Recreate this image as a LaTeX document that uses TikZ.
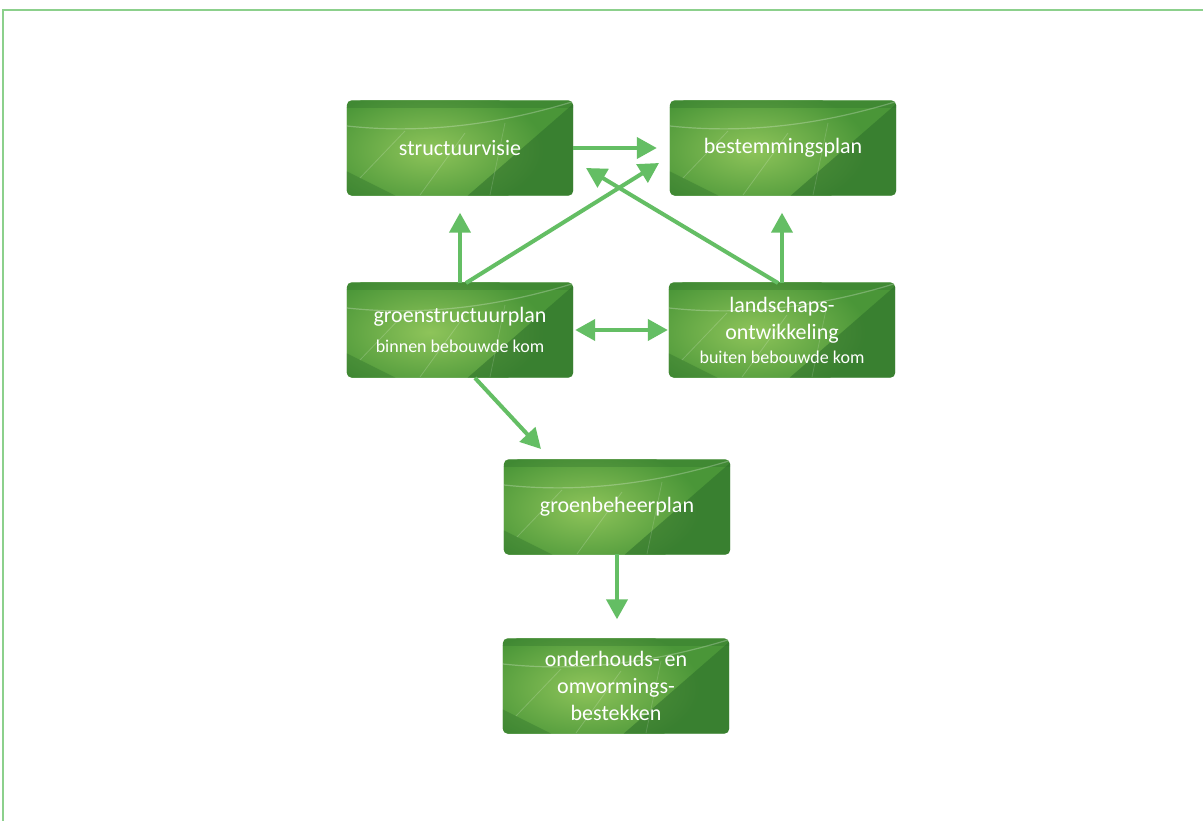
\documentclass[tikz,border=0pt]{standalone}
\usepackage{fontspec}
\setmainfont{Carlito}
\usetikzlibrary{arrows.meta,backgrounds}
\definecolor{arrowgreen}{HTML}{64BE64}
\definecolor{framegreen}{HTML}{8CD08C}
\definecolor{leafmid}{HTML}{4A9638}
\definecolor{leaflight}{HTML}{8EC45A}
\definecolor{leafdark}{HTML}{2C6E2A}
\tikzset{
  leaf/.style={minimum width=226pt, minimum height=93pt, inner sep=0pt,
    text=white, align=center, font=\fontsize{22}{27}\selectfont},
  arr/.style={draw=arrowgreen, line width=4pt, -{Triangle[length=20pt, width=21pt]}},
  darr/.style={draw=arrowgreen, line width=4pt, {Triangle[length=20pt, width=21pt]}-{Triangle[length=20pt, width=21pt]}}
}
\begin{document}
\begin{tikzpicture}[x=1pt,y=-1pt]
\useasboundingbox (0,0) rectangle (1203,821);

\node[leaf] (sv) at (460,148) {structuurvisie};
\node[leaf] (bp) at (783,148) {bestemmingsplan};
\node[leaf] (gs) at (460,330) {groenstructuurplan\\[3pt]{\fontsize{18}{20}\selectfont binnen bebouwde kom}};
\node[leaf] (lo) at (782,330) {landschaps-\\ontwikkeling\\[-3pt]{\fontsize{18}{20}\selectfont buiten bebouwde kom}};
\node[leaf] (gb) at (617,507) {groenbeheerplan};
\node[leaf] (ob) at (616,686) {onderhouds- en\\omvormings-\\bestekken};

\begin{scope}[on background layer]
\fill[white] (0,0) rectangle (1203,821);
\draw[framegreen, line width=2pt] (3,821) -- (3,10) -- (1203,10);
\foreach \n in {sv,bp,gs,lo,gb,ob}{
  \begin{scope}
    \clip[rounded corners=5pt] ([yshift=-1pt]\n.south west) rectangle ([yshift=1pt]\n.north east);
    \begin{scope}[shift={(\n.center)}]
      \fill[leafmid] (-120,-50) rectangle (120,50);
      \shade[inner color=leaflight, outer color=leafmid] (-30,2) ellipse [x radius=115, y radius=62];
      \fill[leafdark, opacity=0.55] (5,50) -- (120,-50) -- (120,50) -- cycle;
      \fill[leafdark, opacity=0.35] (-120,20) -- (-60,50) -- (-120,50) -- cycle;
      \fill[leafdark, opacity=0.3] (-120,-50) rectangle (120,-40);
      \draw[white, opacity=0.25, line width=1.2pt] (-113,-22) .. controls (-20,-12) and (60,-30) .. (115,-47);
      \draw[white, opacity=0.18, line width=0.8pt] (-40,47) -- (5,-15);
      \draw[white, opacity=0.18, line width=0.8pt] (-100,30) -- (-55,-17);
      \draw[white, opacity=0.15, line width=0.8pt] (30,47) -- (45,-25);
    \end{scope}
  \end{scope}
}
\end{scope}

\coordinate (d1s) at (466,283);
\coordinate (d1e) at (659,163);
\coordinate (d2s) at (778,283);
\coordinate (d2e) at (586,168);
\coordinate (d3s) at (475,378);
\coordinate (d3e) at (541,449);

\draw[arr, shorten >=13pt] (sv.east) -- (bp.west);
\draw[arr, shorten >=18pt] (gs.north) -- (gs.north |- sv.south);
\draw[arr, shorten >=18pt] (lo.north) -- (lo.north |- bp.south);
\draw[arr] (d1s) -- (d1e);
\draw[arr] (d2s) -- (d2e);
\draw[darr, shorten <=2pt, shorten >=1pt] (gs.east) -- (gs.east -| lo.west);
\draw[arr] (d3s) -- (d3e);
\draw[arr, shorten >=20pt] (gb.south) -- (gb.south |- ob.north);
\end{tikzpicture}
\end{document}
